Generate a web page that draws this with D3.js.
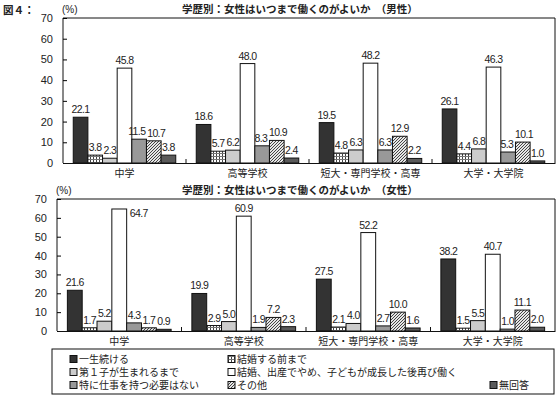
<!DOCTYPE html>
<html>
<head>
<meta charset="utf-8">
<script src="https://cdn.jsdelivr.net/npm/d3@7"></script>
<style>
  body { margin: 0; background: #fff; }
  text { font-family: "Liberation Sans", "Noto Sans CJK JP", sans-serif; fill: #222; }
  .num { font-family: "Liberation Sans Narrow", "Liberation Sans", sans-serif; }
</style>
</head>
<body>
<svg id="chart"></svg>
<script>
const categories = ['中学', '高等学校', '短大・専門学校・高専', '大学・大学院']
const seriesNames = [
  '一生続ける', '結婚する前まで', '第１子が生まれるまで',
  '結婚、出産でやめ、子どもが成長した後再び働く',
  '特に仕事を持つ必要はない', 'その他', '無回答'
]
const maleValues = [
  [22.1, 18.6, 19.5, 26.1],
  [3.8, 5.7, 4.8, 4.4],
  [2.3, 6.2, 6.3, 6.8],
  [45.8, 48.0, 48.2, 46.3],
  [11.5, 8.3, 6.3, 5.3],
  [10.7, 10.9, 12.9, 10.1],
  [3.8, 2.4, 2.2, 1.0]
]
const femaleValues = [
  [21.6, 19.9, 27.5, 38.2],
  [1.7, 2.9, 2.1, 1.5],
  [5.2, 5.0, 4.0, 5.5],
  [64.7, 60.9, 52.2, 40.7],
  [4.3, 1.9, 2.7, 1.0],
  [1.7, 7.2, 10.0, 11.1],
  [0.9, 2.3, 1.6, 2.0]
]
const yTicks = [0, 10, 20, 30, 40, 50, 60, 70]

const width = 558
const height = 397
const fills = ['#333333', 'url(#grid)', '#cccccc', '#ffffff', '#999999', 'url(#hatch)', '#5a5a5a']

const svg = d3.select('#chart')
  .attr('width', width)
  .attr('height', height)

// Patterns
const defs = svg.append('defs')
const grid = defs.append('pattern')
  .attr('id', 'grid')
  .attr('patternUnits', 'userSpaceOnUse')
  .attr('width', 3).attr('height', 3)
grid.append('rect').attr('width', 3).attr('height', 3).attr('fill', '#fff')
grid.append('rect').attr('width', 1).attr('height', 3).attr('fill', '#444')
grid.append('rect').attr('width', 3).attr('height', 1).attr('fill', '#777')

const hatch = defs.append('pattern')
  .attr('id', 'hatch')
  .attr('patternUnits', 'userSpaceOnUse')
  .attr('width', 3).attr('height', 3)
hatch.append('rect').attr('width', 3).attr('height', 3).attr('fill', '#e6e6e6')
hatch.append('path')
  .attr('d', 'M0,3 L3,0 M-1,1 L1,-1 M2,4 L4,2')
  .attr('stroke', '#333').attr('stroke-width', 0.9)

svg.append('text')
  .attr('x', 3).attr('y', 14)
  .attr('font-size', 10.5).attr('font-weight', 'bold')
  .text('図４：')

const drawChart = (values, box, title) => {
  const { left, right, top, bottom } = box

  const x0 = d3.scaleBand()
    .domain(categories)
    .range([left, right])

  const x1 = d3.scaleBand()
    .domain(d3.range(seriesNames.length))
    .range([0, x0.bandwidth()])
    .paddingInner(0)
    .paddingOuter(0.7)

  const y = d3.scaleLinear()
    .domain([0, 70])
    .range([bottom, top])

  const g = svg.append('g')

  // Title and unit
  g.append('text')
    .attr('x', 182).attr('y', top - 5)
    .attr('font-size', 10.5).attr('font-weight', 'bold')
    .text(title)

  g.append('text')
    .attr('x', left - 1).attr('y', top - 5)
    .attr('font-size', 10)
    .text('(%)')

  // Bars
  const data = []
  values.forEach((row, s) => row.forEach((v, c) => data.push({ s, c, v })))

  g.selectAll('.bar')
    .data(data)
    .enter().append('rect')
    .attr('class', 'bar')
    .attr('x', d => x0(categories[d.c]) + x1(d.s))
    .attr('y', d => y(d.v))
    .attr('width', x1.bandwidth())
    .attr('height', d => y(0) - y(d.v))
    .attr('fill', d => fills[d.s])
    .attr('stroke', '#111')
    .attr('stroke-width', 1)

  // Value labels
  const outside = d => y(d.v) - 14 < top
  const labels = g.selectAll('.label')
    .data(data)
    .enter().append('text')
    .attr('class', 'num')
    .attr('font-size', 10.5)
    .attr('letter-spacing', -0.6)
    .attr('text-anchor', d => (outside(d) ? 'start' : 'middle'))
    .attr('x', d => x0(categories[d.c]) + x1(d.s) +
      (outside(d) ? x1.bandwidth() + 3 : x1.bandwidth() / 2))
    .attr('y', d => (outside(d) ? y(d.v) + 8 : y(d.v) - 4))
    .text(d => d3.format('.1f')(d.v))

  // Push apart neighbouring labels that collide
  categories.forEach((cat, c) => {
    const nodes = labels.filter(d => d.c === c).nodes()
      .sort((a, b) => d3.select(a).datum().s - d3.select(b).datum().s)
    for (let i = 1; i < nodes.length; i++) {
      const a = nodes[i - 1].getBBox()
      const b = nodes[i].getBBox()
      const vOverlap = a.y < b.y + b.height && b.y < a.y + a.height
      const gap = b.x - (a.x + a.width)
      if (vOverlap && gap < 1) {
        const shift = (1 - gap) / 2
        d3.select(nodes[i - 1]).attr('x', +d3.select(nodes[i - 1]).attr('x') - shift)
        d3.select(nodes[i]).attr('x', +d3.select(nodes[i]).attr('x') + shift)
      }
    }
  })

  // Frame
  g.append('path')
    .attr('d', `M${left},${bottom}V${top}H${right}V${bottom}`)
    .attr('fill', 'none')
    .attr('stroke', '#111')

  // Axes
  const yAxis = g.append('g')
    .attr('transform', `translate(${left},0)`)
    .call(d3.axisLeft(y).tickValues(yTicks).tickSizeInner(-4).tickSizeOuter(0).tickPadding(10))
  yAxis.select('.domain').remove()
  yAxis.selectAll('text').attr('class', 'num').attr('font-size', 11).style('font-family', null)

  const xAxis = g.append('g')
    .attr('transform', `translate(0,${bottom})`)
    .call(d3.axisBottom(x0).tickSize(0).tickPadding(7))
  xAxis.select('.domain').attr('stroke', '#111')
  xAxis.selectAll('text').attr('font-size', 10).style('font-family', null)

  // Category separators
  g.selectAll('.sep')
    .data(categories.slice(1))
    .enter().append('line')
    .attr('x1', d => x0(d)).attr('x2', d => x0(d))
    .attr('y1', bottom).attr('y2', bottom - 4)
    .attr('stroke', '#111')
}

drawChart(maleValues, { left: 63, right: 555, top: 18, bottom: 163 },
  '学歴別：女性はいつまで働くのがよいか　（男性）')
drawChart(femaleValues, { left: 57, right: 555, top: 199, bottom: 331 },
  '学歴別：女性はいつまで働くのがよいか　（女性）')

// Legend
const legend = svg.append('g')
legend.append('rect')
  .attr('x', 52).attr('y', 349)
  .attr('width', 502).attr('height', 45)
  .attr('fill', 'none').attr('stroke', '#111')

const legendPos = [
  [70, 359], [228, 359], [70, 372], [228, 372], [70, 385], [228, 385], [490, 385]
]
const item = legend.selectAll('.item')
  .data(seriesNames)
  .enter().append('g')
  .attr('transform', (d, i) => `translate(${legendPos[i][0]},${legendPos[i][1]})`)

item.append('rect')
  .attr('x', 0).attr('y', -3.5)
  .attr('width', 7).attr('height', 7)
  .attr('fill', (d, i) => fills[i])
  .attr('stroke', '#111')

item.append('text')
  .attr('x', 9).attr('y', 4)
  .attr('font-size', 10)
  .text(d => d)
</script>
</body>
</html>
